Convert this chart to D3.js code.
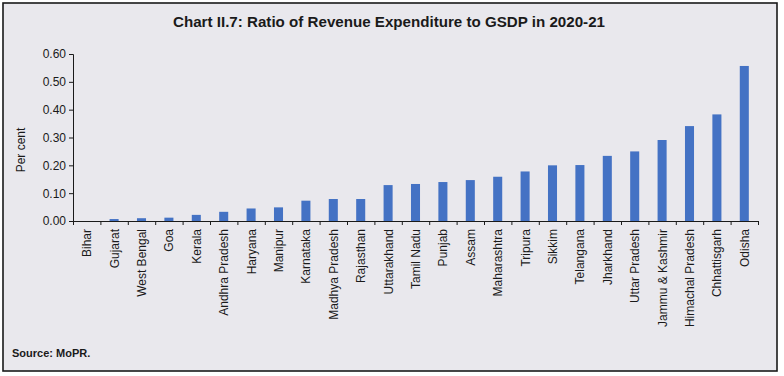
<!DOCTYPE html>
<html>
<head>
<meta charset="utf-8">
<script src="https://cdn.jsdelivr.net/npm/d3@7"></script>
<style>
  body { margin: 0; background: #fff; }
  svg text { font-family: "Liberation Sans", Arial, sans-serif; fill: #1a1a1a; }
</style>
</head>
<body>
<svg id="chart"></svg>
<script>
const width = 784;
const height = 376;

// data
const states = ["Bihar", "Gujarat", "West Bengal", "Goa", "Kerala", "Andhra Pradesh", "Haryana",
  "Manipur", "Karnataka", "Madhya Pradesh", "Rajasthan", "Uttarakhand", "Tamil Nadu", "Punjab",
  "Assam", "Maharashtra", "Tripura", "Sikkim", "Telangana", "Jharkhand", "Uttar Pradesh",
  "Jammu & Kashmir", "Himachal Pradesh", "Chhattisgarh", "Odisha"];
const ratios = [0.000, 0.007, 0.010, 0.012, 0.022, 0.033, 0.045, 0.049, 0.073, 0.079, 0.079,
  0.129, 0.133, 0.140, 0.147, 0.159, 0.178, 0.200, 0.201, 0.234, 0.250, 0.291, 0.341, 0.383, 0.557];
const yTicks = [0, 0.1, 0.2, 0.3, 0.4, 0.5, 0.6];

var svg = d3.select("#chart")
  .attr("width", width)
  .attr("height", height);

// panel + frame
svg.append("rect")
  .attr("x", 3).attr("y", 3)
  .attr("width", 774).attr("height", 368)
  .attr("fill", "#E9E8ED")
  .attr("stroke", "#1a1a1a")
  .attr("stroke-width", 1.6);

svg.append("text")
  .attr("x", 389).attr("y", 27)
  .attr("text-anchor", "middle")
  .attr("font-size", "14px")
  .attr("font-weight", "bold")
  .attr("textLength", 432)
  .attr("lengthAdjust", "spacingAndGlyphs")
  .text("Chart II.7: Ratio of Revenue Expenditure to GSDP in 2020-21");

var x = d3.scaleBand().domain(states).range([73, 758]).paddingInner(0.67).paddingOuter(0.335);
var xTicks = d3.scaleLinear().domain([0, states.length]).range([73, 758]);
var y = d3.scaleLinear().domain([0, 0.6]).range([221, 54]);

// bars
svg.selectAll("rect.bar")
  .data(states)
  .enter()
  .append("rect")
  .attr("class", "bar")
  .attr("x", d => x(d))
  .attr("width", x.bandwidth())
  .attr("y", (d, i) => y(ratios[i]))
  .attr("height", (d, i) => y(0) - y(ratios[i]))
  .attr("fill", "#4472C4");

// y axis
var yAxis = svg.append("g")
  .attr("transform", "translate(73,0)")
  .call(d3.axisLeft(y).tickValues(yTicks).tickFormat(d3.format(".2f")).tickSize(4).tickPadding(3));
yAxis.selectAll("text").attr("font-size", "12px");
yAxis.selectAll("path, line").attr("stroke", "#1a1a1a");

// x axis: line with ticks at the category boundaries
var xAxis = svg.append("g")
  .attr("transform", "translate(0,221)")
  .call(d3.axisBottom(xTicks).tickValues(d3.range(states.length + 1)).tickSize(4).tickFormat(""));
xAxis.selectAll("path").attr("stroke", "#1a1a1a");
xAxis.selectAll("line").attr("stroke", "#1a1a1a");
xAxis.select(".domain").attr("d", "M73,0.5H758");

svg.append("g")
  .selectAll("text")
  .data(states)
  .enter()
  .append("text")
  .attr("transform", d => `translate(${x(d) + x.bandwidth() / 2 + 4.5},229) rotate(-90)`)
  .attr("text-anchor", "end")
  .attr("font-size", "12px")
  .text(d => d);

// y title
svg.append("text")
  .attr("transform", "translate(25,150) rotate(-90)")
  .attr("text-anchor", "middle")
  .attr("font-size", "12px")
  .text("Per cent");

svg.append("text")
  .attr("x", 12).attr("y", 357)
  .attr("font-size", "11px")
  .attr("font-weight", "bold")
  .text("Source: MoPR.");
</script>
</body>
</html>
